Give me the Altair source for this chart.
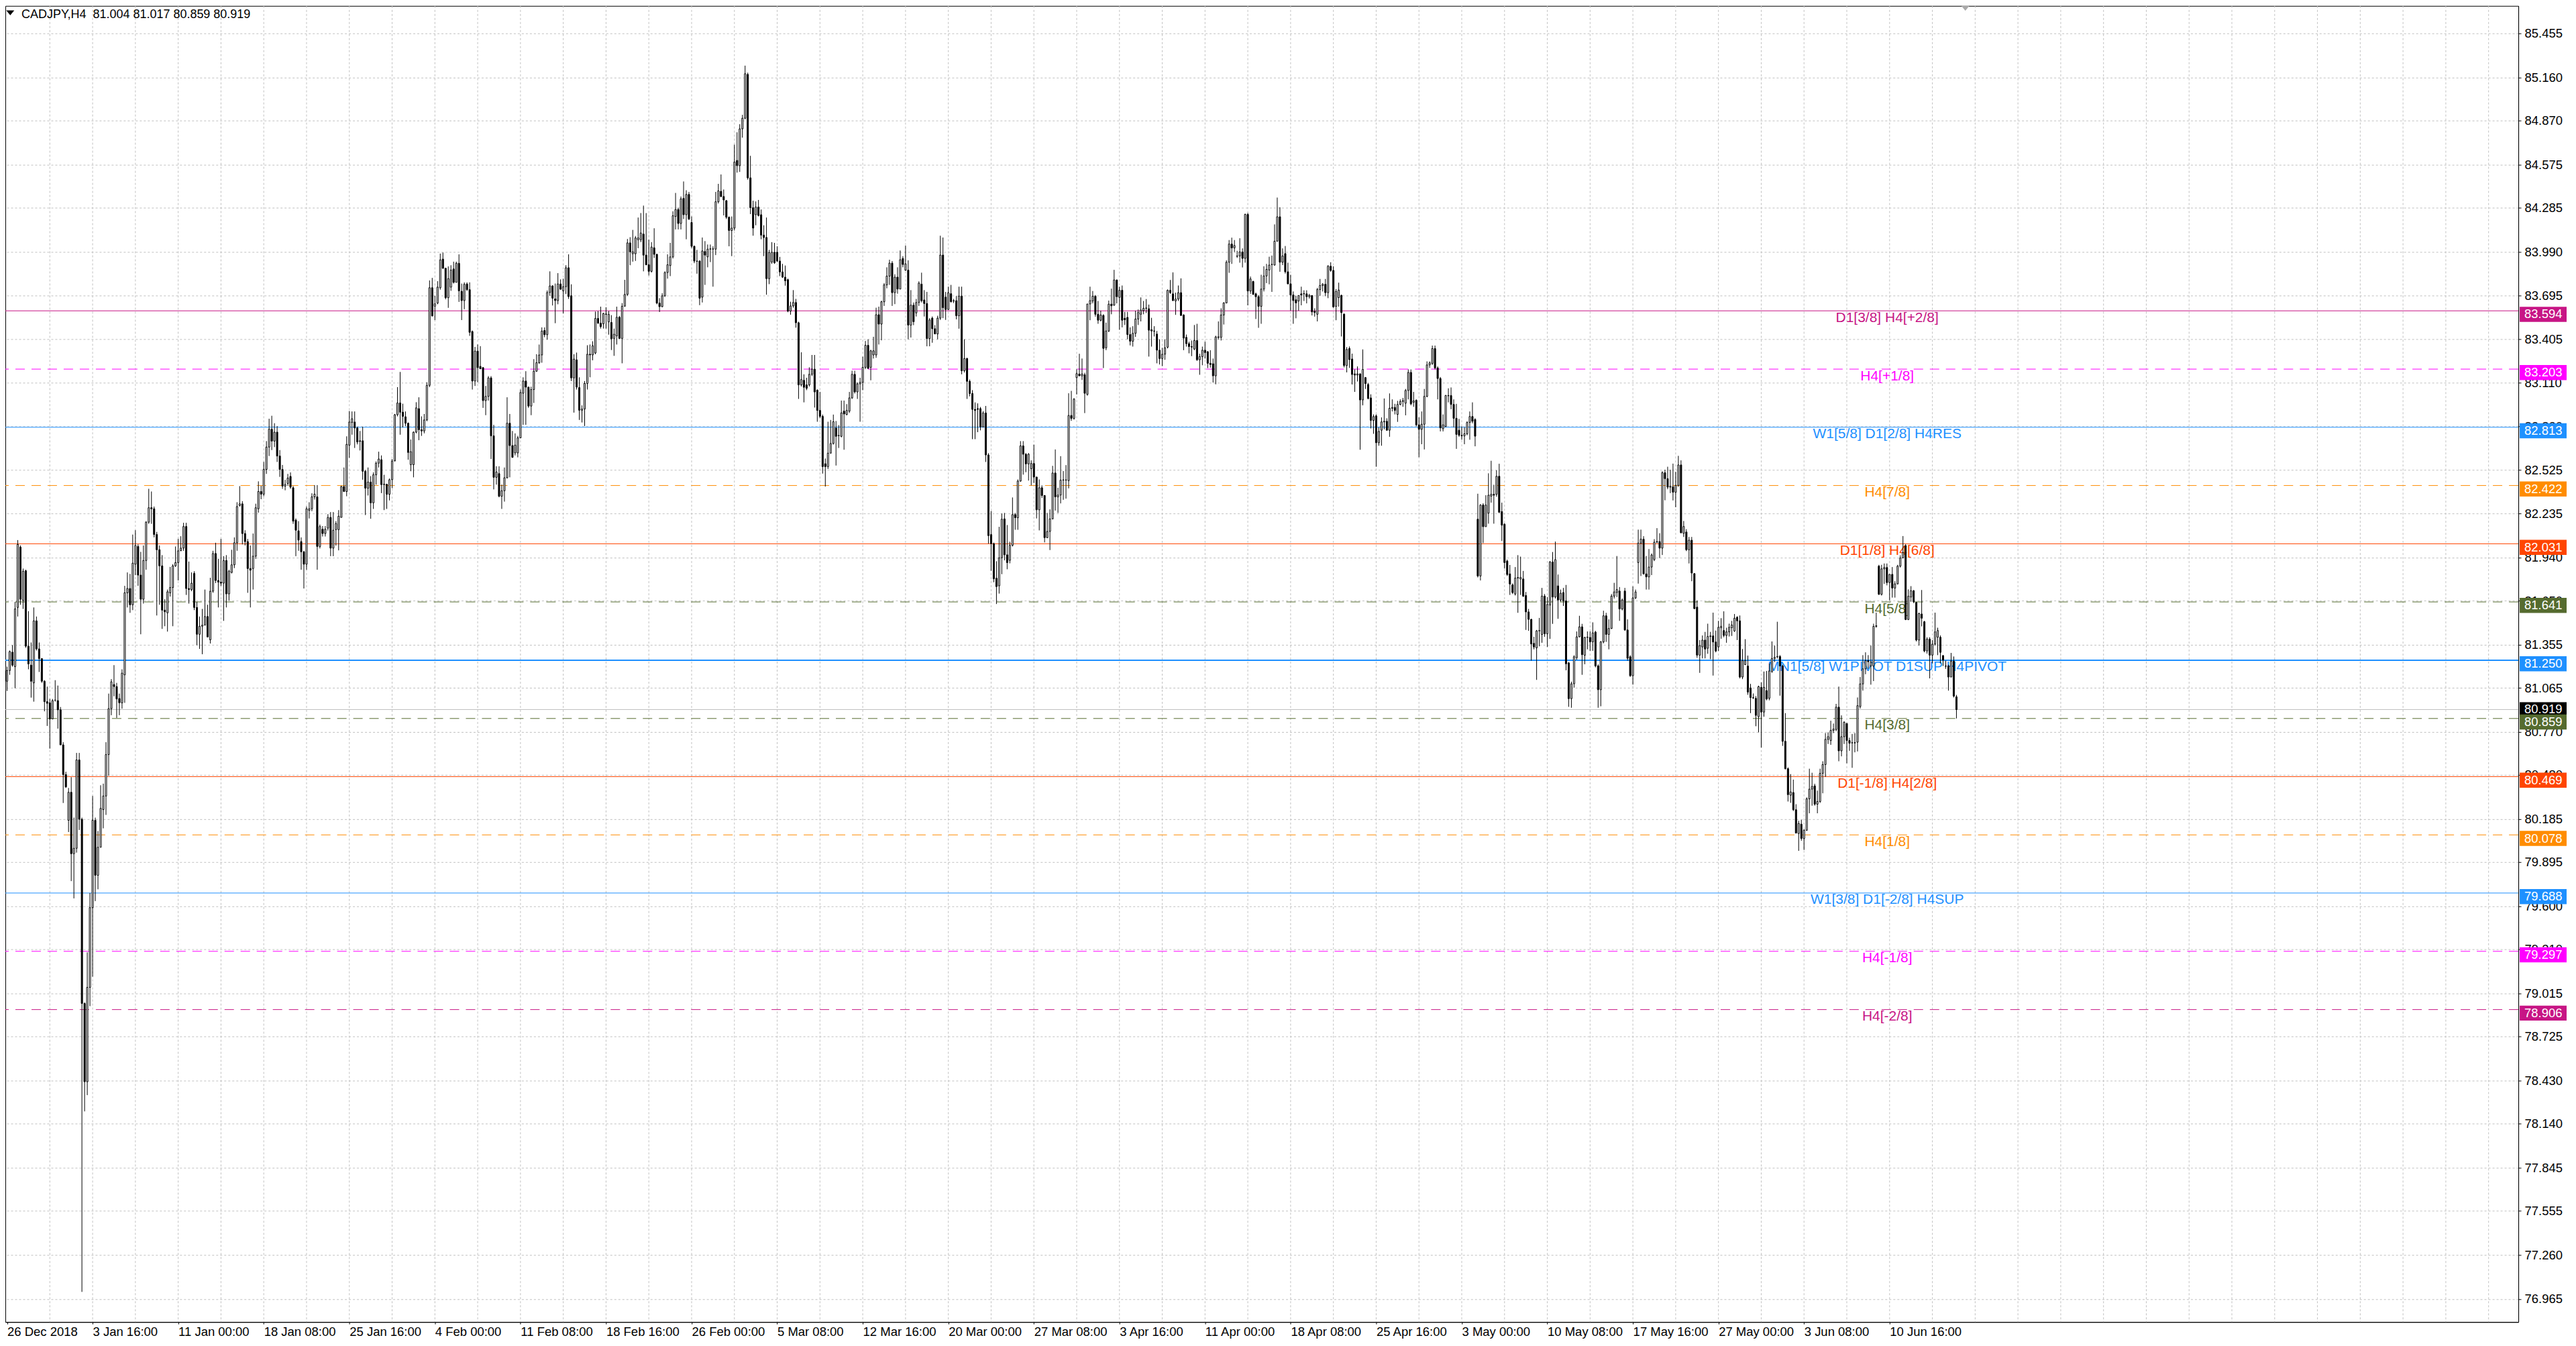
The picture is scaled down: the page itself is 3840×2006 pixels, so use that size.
import json

import altair as alt
import pandas as pd

# CADJPY H4 candles. bar 0 = first bar (26 Dec 2018).
# every tuple is (open, high, low, close)
bars_dec26_jan24 = [
    (81.109, 81.207, 81.044, 81.181), (81.181, 81.315, 81.152, 81.308), (81.304, 81.351, 81.207, 81.217), (81.207, 81.641, 81.062, 81.594),
    (81.604, 82.056, 81.543, 82.027), (82.009, 82.020, 81.622, 81.659), (81.651, 81.865, 81.594, 81.847), (81.850, 81.857, 81.333, 81.344),
    (81.344, 81.579, 81.189, 81.225), (81.217, 81.369, 80.999, 81.109), (81.098, 81.604, 80.972, 81.514), (81.514, 81.543, 81.315, 81.326),
    (81.326, 81.369, 81.171, 81.261), (81.261, 81.261, 81.098, 81.109), (81.109, 81.116, 80.907, 80.972), (80.972, 81.073, 80.809, 80.961),
    (80.964, 80.990, 80.657, 80.856), (80.856, 80.990, 80.856, 80.979), (80.982, 81.116, 80.972, 80.982), (80.979, 81.080, 80.791, 80.917),
    (80.917, 80.936, 80.682, 80.682), (80.682, 80.700, 80.292, 80.483), (80.483, 80.502, 80.393, 80.400), (80.176, 80.393, 80.097, 80.364),
    (80.364, 80.465, 79.768, 79.952), (79.952, 80.194, 79.652, 79.988), (79.988, 80.628, 79.959, 80.581), (80.581, 80.628, 80.111, 80.183),
    (80.183, 80.194, 77.012, 78.947), (78.947, 78.954, 78.223, 78.422), (78.422, 79.290, 78.332, 79.055), (79.055, 79.688, 78.929, 79.590),
    (79.590, 80.339, 79.127, 80.176), (80.176, 80.194, 79.634, 79.807), (79.807, 80.104, 79.713, 79.995), (79.995, 80.411, 79.995, 80.256),
    (80.248, 80.422, 80.122, 80.339), (80.339, 80.700, 80.212, 80.617), (80.617, 81.026, 80.476, 80.925), (80.925, 81.123, 80.881, 81.105),
    (81.087, 81.217, 81.008, 81.073), (81.073, 81.098, 80.863, 80.990), (80.993, 81.026, 80.881, 80.964), (80.964, 81.189, 80.925, 81.163),
    (81.152, 81.749, 80.964, 81.702), (81.702, 81.839, 81.604, 81.731), (81.731, 81.829, 81.568, 81.622), (81.622, 82.093, 81.586, 81.901),
    (81.894, 82.122, 81.821, 82.020), (82.013, 82.027, 81.749, 81.821), (81.821, 81.977, 81.424, 81.659), (81.659, 82.020, 81.630, 81.919),
    (81.919, 82.183, 81.857, 82.176), (82.176, 82.400, 82.165, 82.273), (82.273, 82.382, 82.165, 82.266), (82.266, 82.281, 82.074, 82.093),
    (82.093, 82.111, 81.550, 81.991), (81.991, 82.020, 81.622, 81.883), (81.883, 81.955, 81.460, 81.586), (81.586, 81.659, 81.478, 81.575),
    (81.568, 81.724, 81.442, 81.709), (81.702, 81.876, 81.677, 81.738), (81.738, 81.894, 81.478, 81.883), (81.883, 82.013, 81.876, 81.905),
    (81.905, 82.064, 81.785, 81.984), (81.984, 82.082, 81.984, 82.002), (82.002, 82.172, 81.984, 82.147), (82.147, 82.172, 81.688, 81.731),
    (81.731, 81.912, 81.630, 81.724), (81.724, 81.839, 81.713, 81.767), (81.832, 81.847, 81.586, 81.604), (81.604, 81.641, 81.351, 81.424),
    (81.424, 81.543, 81.326, 81.478), (81.478, 81.594, 81.290, 81.485), (81.485, 81.724, 81.485, 81.543), (81.543, 81.622, 81.406, 81.406),
    (81.387, 81.803, 81.362, 81.713), (81.713, 81.984, 81.702, 81.966), (81.966, 82.038, 81.767, 81.785), (81.785, 81.930, 81.604, 81.774),
    (81.774, 82.064, 81.749, 81.767), (81.767, 81.948, 81.514, 81.919), (81.919, 81.955, 81.604, 81.695), (81.695, 81.857, 81.651, 81.847),
    (81.839, 81.991, 81.832, 81.890), (81.890, 82.074, 81.868, 82.038), (82.038, 82.310, 81.984, 82.281), (82.288, 82.418, 82.281, 82.299),
    (82.299, 82.317, 82.027, 82.100), (82.100, 82.122, 82.020, 82.046), (82.046, 82.064, 81.702, 81.865), (81.865, 82.020, 81.604, 81.854),
    (81.865, 82.100, 81.724, 81.948), (81.948, 82.300, 81.930, 82.273), (82.266, 82.450, 82.240, 82.382), (82.382, 82.420, 82.330, 82.364),
    (82.364, 82.580, 82.350, 82.530), (82.530, 82.720, 82.500, 82.680), (82.680, 82.870, 82.620, 82.800), (82.800, 82.890, 82.660, 82.720),
    (82.720, 82.840, 82.680, 82.780), (82.780, 82.820, 82.580, 82.620), (82.620, 82.660, 82.480, 82.530), (82.530, 82.560, 82.400, 82.418),
    (82.418, 82.460, 82.390, 82.429), (82.436, 82.500, 82.420, 82.472), (82.483, 82.510, 82.400, 82.411), (82.407, 82.418, 82.165, 82.183),
    (82.190, 82.201, 81.948, 82.122), (82.118, 82.183, 81.984, 82.056), (82.046, 82.074, 81.857, 81.977), (81.977, 81.984, 81.731, 81.894),
    (81.894, 82.281, 81.857, 82.266), (82.255, 82.310, 82.201, 82.266), (82.266, 82.370, 82.250, 82.346), (82.346, 82.425, 82.328, 82.364),
    (82.346, 82.425, 81.857, 82.013), (82.013, 82.160, 82.000, 82.147), (82.129, 82.150, 82.080, 82.100), (82.100, 82.150, 82.080, 82.129),
    (82.136, 82.230, 82.120, 82.208), (82.208, 82.244, 81.948, 82.002), (82.002, 82.244, 81.948, 82.122), (82.126, 82.183, 82.019, 82.167),
]
bars_jan25_feb22 = [
    (82.126, 82.257, 81.987, 82.216), (82.208, 82.420, 82.208, 82.415), (82.415, 82.543, 82.379, 82.382), (82.382, 82.752, 82.350, 82.698),
    (82.693, 82.922, 82.608, 82.848), (82.845, 82.919, 82.763, 82.870), (82.848, 82.919, 82.674, 82.808), (82.808, 82.816, 82.698, 82.714),
    (82.722, 82.788, 82.657, 82.718), (82.722, 82.816, 82.461, 82.518), (82.518, 82.526, 82.224, 82.404), (82.404, 82.543, 82.355, 82.445),
    (82.445, 82.485, 82.199, 82.306), (82.306, 82.510, 82.265, 82.494), (82.494, 82.584, 82.428, 82.572), (82.572, 82.649, 82.543, 82.600),
    (82.595, 82.624, 82.371, 82.428), (82.428, 82.494, 82.257, 82.431), (82.431, 82.431, 82.265, 82.363), (82.363, 82.469, 82.322, 82.461),
    (82.461, 82.600, 82.404, 82.587), (82.587, 82.902, 82.584, 82.897), (82.897, 83.082, 82.886, 82.976), (82.976, 83.184, 82.763, 82.914),
    (82.914, 82.971, 82.812, 82.886), (82.883, 82.919, 82.821, 82.840), (82.840, 82.845, 82.595, 82.644), (82.562, 82.731, 82.518, 82.649),
    (82.562, 82.785, 82.477, 82.780), (82.780, 82.981, 82.772, 82.943), (82.938, 83.014, 82.726, 82.796), (82.796, 82.886, 82.755, 82.788),
    (82.788, 82.902, 82.772, 82.862), (82.862, 83.115, 82.853, 83.094), (83.094, 83.798, 83.082, 83.749), (83.749, 83.815, 83.556, 83.560),
    (83.625, 83.695, 83.532, 83.641), (83.646, 83.793, 83.638, 83.753), (83.749, 83.978, 83.736, 83.936), (83.941, 83.985, 83.875, 83.880),
    (83.880, 83.883, 83.671, 83.682), (83.682, 83.892, 83.614, 83.810), (83.753, 83.900, 83.728, 83.867), (83.875, 83.924, 83.777, 83.785),
    (83.785, 83.924, 83.785, 83.913), (83.913, 83.973, 83.654, 83.728), (83.725, 83.777, 83.532, 83.663), (83.663, 83.785, 83.605, 83.772),
    (83.774, 83.785, 83.728, 83.736), (83.736, 83.785, 83.426, 83.450), (83.455, 83.462, 83.066, 83.123), (83.123, 83.352, 83.090, 83.324),
    (83.324, 83.368, 83.115, 83.213), (83.221, 83.357, 83.205, 83.205), (83.213, 83.216, 82.943, 82.992), (82.992, 83.090, 82.894, 83.020),
    (83.020, 83.156, 82.992, 83.144), (83.144, 83.156, 82.600, 82.755), (82.755, 82.829, 82.396, 82.477), (82.477, 82.551, 82.428, 82.513),
    (82.502, 82.551, 82.343, 82.350), (82.350, 82.428, 82.265, 82.387), (82.387, 82.543, 82.314, 82.474), (82.474, 83.014, 82.469, 82.840),
    (82.840, 82.902, 82.477, 82.690), (82.690, 82.788, 82.608, 82.611), (82.641, 82.772, 82.624, 82.693), (82.641, 82.755, 82.611, 82.742),
    (82.742, 83.066, 82.739, 83.046), (83.041, 83.148, 82.829, 83.123), (83.123, 83.189, 82.829, 83.082), (83.082, 83.085, 82.943, 82.955),
    (82.955, 83.085, 82.894, 83.066), (83.066, 83.270, 82.976, 83.189), (83.189, 83.303, 83.184, 83.246), (83.246, 83.368, 83.238, 83.298),
    (83.298, 83.483, 83.246, 83.458), (83.462, 83.483, 83.417, 83.434), (83.434, 83.731, 83.401, 83.717), (83.717, 83.859, 83.695, 83.761),
    (83.761, 83.766, 83.630, 83.679), (83.674, 83.777, 83.511, 83.663), (83.663, 83.847, 83.638, 83.774), (83.774, 83.805, 83.736, 83.739),
    (83.728, 83.810, 83.576, 83.756), (83.756, 83.900, 83.707, 83.883), (83.883, 83.973, 83.674, 83.690), (83.695, 83.772, 83.123, 83.144),
    (83.144, 83.303, 82.911, 83.270), (83.265, 83.314, 83.066, 83.082), (83.079, 83.148, 82.862, 82.927), (82.927, 82.960, 82.845, 82.935),
    (82.935, 83.123, 82.821, 83.107), (83.107, 83.363, 83.066, 83.303), (83.303, 83.368, 83.148, 83.298), (83.298, 83.390, 83.262, 83.360),
    (83.311, 83.589, 83.303, 83.543), (83.543, 83.592, 83.507, 83.511), (83.511, 83.622, 83.475, 83.488), (83.507, 83.581, 83.475, 83.576),
    (83.573, 83.618, 83.475, 83.570), (83.520, 83.592, 83.434, 83.570), (83.516, 83.565, 83.331, 83.406), (83.409, 83.475, 83.292, 83.437),
    (83.426, 83.622, 83.368, 83.551), (83.551, 83.560, 83.406, 83.409), (83.409, 83.646, 83.242, 83.625), (83.625, 83.802, 83.622, 83.704),
    (83.704, 84.076, 83.695, 84.050), (84.050, 84.088, 83.900, 83.990), (83.977, 84.137, 83.924, 83.990), (83.977, 84.096, 83.929, 84.083),
    (84.071, 84.220, 84.014, 84.083), (84.071, 84.250, 84.055, 84.116), (84.109, 84.300, 83.859, 83.968), (83.968, 84.250, 83.900, 83.903),
    (83.903, 84.071, 83.831, 83.859), (83.859, 84.055, 83.851, 84.022), (84.017, 84.148, 83.949, 83.973), (83.973, 83.977, 83.638, 83.646),
    (83.646, 83.679, 83.586, 83.622), (83.622, 83.712, 83.618, 83.695), (83.695, 83.859, 83.687, 83.851), (83.851, 83.973, 83.810, 83.903),
]
bars_feb22_mar25 = [
    (83.898, 84.050, 83.827, 83.956), (83.956, 84.262, 83.945, 84.232), (84.227, 84.385, 84.140, 84.274), (84.274, 84.286, 84.140, 84.180),
    (84.180, 84.361, 84.140, 84.345), (84.349, 84.462, 84.210, 84.239), (84.239, 84.403, 84.074, 84.375), (84.375, 84.392, 84.203, 84.210),
    (84.187, 84.227, 84.015, 84.027), (84.027, 84.032, 83.914, 83.928), (83.928, 84.003, 83.843, 83.926), (83.928, 83.933, 83.632, 83.679),
    (83.686, 84.086, 83.650, 83.996), (83.992, 84.062, 83.768, 83.968), (83.956, 84.039, 83.886, 84.008), (84.008, 84.039, 83.921, 84.010),
    (84.008, 84.027, 83.756, 84.010), (84.008, 84.392, 83.968, 84.326), (84.326, 84.446, 84.314, 84.399), (84.396, 84.509, 84.356, 84.361),
    (84.361, 84.408, 84.234, 84.338), (84.333, 84.338, 84.210, 84.222), (84.222, 84.227, 84.027, 84.133), (84.133, 84.227, 83.961, 84.149),
    (84.149, 84.709, 84.133, 84.592), (84.603, 84.792, 84.521, 84.568), (84.568, 84.846, 84.526, 84.815), (84.815, 84.909, 84.756, 84.886),
    (84.886, 85.239, 84.879, 85.185), (85.180, 85.192, 84.474, 84.486), (84.486, 84.634, 84.243, 84.286), (84.286, 84.333, 84.098, 84.149),
    (84.239, 84.328, 84.168, 84.290), (84.290, 84.338, 84.227, 84.234), (84.239, 84.274, 84.074, 84.102), (84.102, 84.168, 83.961, 84.086),
    (84.086, 84.220, 83.702, 83.810), (83.810, 84.003, 83.773, 83.985), (83.921, 84.055, 83.909, 83.987), (83.987, 84.050, 83.909, 83.916),
    (83.987, 84.027, 83.921, 83.928), (83.928, 83.956, 83.827, 83.855), (83.855, 83.909, 83.815, 83.820), (83.820, 83.898, 83.763, 83.796),
    (83.803, 83.810, 83.585, 83.592), (83.592, 83.655, 83.568, 83.627), (83.627, 83.733, 83.615, 83.650), (83.650, 83.674, 83.481, 83.514),
    (83.514, 83.521, 83.003, 83.097), (83.097, 83.316, 83.086, 83.133), (83.128, 83.168, 82.980, 83.081), (83.097, 83.145, 83.062, 83.074),
    (83.097, 83.215, 83.086, 83.168), (83.168, 83.298, 83.156, 83.203), (83.203, 83.298, 82.945, 83.050), (83.062, 83.067, 82.850, 82.926),
    (82.926, 83.050, 82.874, 82.886), (82.886, 82.898, 82.502, 82.549), (82.568, 82.603, 82.415, 82.549), (82.549, 82.850, 82.533, 82.639),
    (82.639, 82.862, 82.639, 82.704), (82.704, 82.898, 82.697, 82.850), (82.808, 82.855, 82.556, 82.752), (82.756, 82.827, 82.674, 82.758),
    (82.752, 82.992, 82.745, 82.909), (82.921, 82.992, 82.662, 82.902), (82.898, 82.968, 82.893, 82.926), (82.921, 83.050, 82.909, 83.010),
    (83.010, 83.192, 83.003, 83.168), (83.168, 83.192, 83.039, 83.050), (83.050, 83.114, 83.003, 83.104), (83.104, 83.145, 82.850, 83.114),
    (83.114, 83.286, 83.062, 83.215), (83.215, 83.392, 83.203, 83.363), (83.363, 83.403, 83.203, 83.208), (83.215, 83.333, 83.128, 83.326),
    (83.298, 83.420, 83.274, 83.326), (83.298, 83.615, 83.279, 83.568), (83.568, 83.622, 83.368, 83.505), (83.505, 83.662, 83.396, 83.655),
    (83.655, 83.780, 83.627, 83.768), (83.768, 83.886, 83.745, 83.827), (83.827, 83.937, 83.768, 83.914), (83.914, 83.928, 83.627, 83.716),
    (83.716, 83.839, 83.639, 83.820), (83.820, 83.886, 83.709, 83.740), (83.740, 83.999, 83.740, 83.937), (83.945, 83.961, 83.886, 83.905),
    (83.867, 84.032, 83.862, 83.909), (83.867, 83.933, 83.403, 83.498), (83.498, 83.733, 83.415, 83.632), (83.632, 83.650, 83.498, 83.521),
    (83.580, 83.674, 83.556, 83.650), (83.650, 83.792, 83.627, 83.780), (83.773, 83.850, 83.650, 83.662), (83.667, 83.733, 83.556, 83.643),
    (83.643, 83.721, 83.356, 83.408), (83.408, 83.545, 83.356, 83.533), (83.545, 83.556, 83.380, 83.474), (83.474, 83.498, 83.439, 83.439),
    (83.439, 83.561, 83.403, 83.545), (83.545, 84.098, 83.533, 83.968), (83.968, 84.086, 83.545, 83.615), (83.686, 83.721, 83.533, 83.603),
    (83.603, 83.756, 83.599, 83.716), (83.709, 83.768, 83.650, 83.655), (83.662, 83.674, 83.646, 83.660), (83.662, 83.693, 83.537, 83.561),
    (83.561, 83.756, 83.474, 83.693), (83.693, 83.756, 83.168, 83.192), (83.192, 83.403, 83.180, 83.274), (83.274, 83.279, 83.003, 83.121),
    (83.121, 83.133, 83.020, 83.039), (83.039, 83.062, 82.733, 82.933), (82.933, 82.980, 82.733, 82.926), (82.938, 82.973, 82.780, 82.933),
    (82.938, 82.949, 82.792, 82.815), (82.815, 82.921, 82.815, 82.909), (82.909, 82.956, 82.580, 82.627), (82.627, 82.639, 82.032, 82.086),
    (82.093, 82.251, 81.850, 82.032), (82.032, 82.039, 81.773, 81.796), (81.800, 81.914, 81.627, 81.744), (81.749, 82.145, 81.697, 81.937),
    (81.937, 82.234, 81.827, 82.196),
]
bars_mar25_apr23 = [
    (82.198, 82.238, 81.920, 81.957), (81.957, 82.157, 81.860, 81.905), (81.920, 82.045, 81.900, 82.021), (82.021, 82.342, 82.013, 82.227),
    (82.227, 82.238, 82.125, 82.206), (82.206, 82.463, 82.125, 82.452), (82.452, 82.720, 82.447, 82.688), (82.688, 82.720, 82.495, 82.632),
    (82.632, 82.640, 82.511, 82.567), (82.567, 82.640, 82.455, 82.632), (82.535, 82.591, 82.423, 82.570), (82.570, 82.696, 82.439, 82.479),
    (82.479, 82.479, 82.201, 82.259), (82.259, 82.463, 82.121, 82.407), (82.407, 82.423, 82.339, 82.355), (82.355, 82.358, 82.040, 82.072),
    (82.072, 82.238, 82.069, 82.114), (82.114, 82.262, 81.989, 82.198), (82.198, 82.554, 82.195, 82.506), (82.506, 82.664, 82.254, 82.346),
    (82.346, 82.407, 82.238, 82.358), (82.358, 82.619, 82.302, 82.458), (82.458, 82.519, 82.326, 82.460), (82.460, 82.559, 82.334, 82.458),
    (82.455, 83.041, 82.403, 82.892), (82.892, 83.057, 82.856, 82.872), (82.872, 83.009, 82.864, 83.001), (83.146, 83.202, 83.033, 83.173),
    (83.170, 83.306, 83.158, 83.158), (83.158, 83.274, 83.130, 83.170), (83.165, 83.178, 82.908, 83.041), (83.033, 83.640, 83.025, 83.640),
    (83.640, 83.756, 83.531, 83.663), (83.660, 83.727, 83.644, 83.692), (83.692, 83.700, 83.555, 83.571), (83.571, 83.660, 83.507, 83.531),
    (83.531, 83.595, 83.523, 83.566), (83.563, 83.571, 83.210, 83.342), (83.346, 83.515, 83.330, 83.459), (83.459, 83.663, 83.451, 83.639),
    (83.639, 83.743, 83.571, 83.628), (83.632, 83.869, 83.628, 83.801), (83.801, 83.804, 83.644, 83.689), (83.684, 83.756, 83.467, 83.732),
    (83.732, 83.764, 83.483, 83.531), (83.544, 83.587, 83.499, 83.534), (83.550, 83.587, 83.403, 83.435), (83.435, 83.483, 83.362, 83.390),
    (83.390, 83.491, 83.354, 83.443), (83.443, 83.595, 83.419, 83.539), (83.539, 83.603, 83.499, 83.583), (83.571, 83.684, 83.523, 83.599),
    (83.595, 83.660, 83.571, 83.611), (83.611, 83.673, 83.579, 83.613), (83.608, 83.636, 83.287, 83.464), (83.467, 83.547, 83.354, 83.459),
    (83.459, 83.491, 83.422, 83.457), (83.438, 83.459, 83.242, 83.330), (83.330, 83.403, 83.234, 83.274), (83.274, 83.346, 83.223, 83.303),
    (83.303, 83.403, 83.266, 83.346), (83.350, 83.737, 83.342, 83.732), (83.732, 83.801, 83.708, 83.716), (83.708, 83.852, 83.660, 83.663),
    (83.660, 83.716, 83.567, 83.673), (83.673, 83.764, 83.660, 83.716), (83.716, 83.812, 83.560, 83.563), (83.566, 83.571, 83.330, 83.411),
    (83.416, 83.435, 83.354, 83.374), (83.374, 83.387, 83.309, 83.354), (83.354, 83.395, 83.290, 83.351), (83.338, 83.499, 83.330, 83.395),
    (83.395, 83.507, 83.258, 83.266), (83.266, 83.306, 83.165, 83.287), (83.287, 83.354, 83.229, 83.330), (83.330, 83.387, 83.274, 83.314),
    (83.319, 83.325, 83.210, 83.242), (83.242, 83.330, 83.213, 83.234), (83.239, 83.274, 83.113, 83.158), (83.158, 83.427, 83.101, 83.419),
    (83.419, 83.523, 83.403, 83.416), (83.416, 83.611, 83.395, 83.566), (83.566, 83.652, 83.502, 83.647), (83.647, 83.933, 83.644, 83.920),
    (83.920, 84.069, 83.849, 84.042), (84.042, 84.085, 83.909, 84.016), (84.016, 84.069, 83.989, 84.032), (83.962, 83.997, 83.949, 83.960),
    (83.962, 84.081, 83.917, 83.989), (83.989, 84.013, 83.885, 83.946), (83.946, 84.246, 83.917, 84.241), (84.241, 84.251, 83.631, 83.727),
    (83.727, 83.824, 83.708, 83.808), (83.791, 83.796, 83.700, 83.705), (83.708, 83.716, 83.539, 83.689), (83.689, 83.700, 83.480, 83.624),
    (83.624, 83.836, 83.507, 83.740), (83.740, 83.893, 83.724, 83.828), (83.828, 83.909, 83.780, 83.872), (83.868, 83.957, 83.772, 83.901),
    (83.904, 83.965, 83.721, 83.906), (83.901, 84.174, 83.898, 84.061), (84.061, 84.354, 84.061, 84.225), (84.225, 84.289, 83.856, 83.920),
    (83.920, 84.013, 83.901, 83.962), (83.978, 84.029, 83.844, 83.856), (83.856, 83.917, 83.772, 83.775), (83.775, 83.836, 83.595, 83.700),
    (83.700, 83.724, 83.507, 83.663), (83.668, 83.695, 83.544, 83.647), (83.660, 83.697, 83.595, 83.697), (83.708, 83.756, 83.631, 83.700),
    (83.708, 83.732, 83.660, 83.710), (83.708, 83.732, 83.644, 83.689), (83.689, 83.708, 83.676, 83.697), (83.697, 83.697, 83.563, 83.587),
    (83.591, 83.611, 83.555, 83.583), (83.571, 83.748, 83.523, 83.737), (83.737, 83.808, 83.695, 83.764), (83.764, 83.780, 83.724, 83.772),
    (83.772, 83.808, 83.692, 83.716), (83.716, 83.901, 83.679, 83.893), (83.893, 83.920, 83.856, 83.865), (83.865, 83.893, 83.615, 83.620),
    (83.624, 83.740, 83.531, 83.724),
]
bars_apr23_may22 = [
    (83.683, 83.783, 83.622, 83.733), (83.697, 83.703, 83.422, 83.582), (83.572, 83.576, 83.215, 83.227), (83.227, 83.351, 83.181, 83.335),
    (83.341, 83.355, 83.211, 83.267), (83.271, 83.307, 83.100, 83.167), (83.171, 83.201, 83.050, 83.163), (83.163, 83.221, 83.120, 83.171),
    (83.171, 83.175, 82.662, 82.996), (82.996, 83.335, 82.960, 83.201), (83.146, 83.150, 83.070, 83.106), (83.100, 83.110, 83.000, 83.006),
    (83.010, 83.034, 82.805, 82.859), (82.859, 82.899, 82.769, 82.885), (82.889, 82.899, 82.548, 82.709), (82.709, 82.813, 82.689, 82.785),
    (82.793, 82.879, 82.689, 82.849), (82.849, 83.006, 82.799, 82.853), (82.853, 82.873, 82.789, 82.793), (82.793, 83.040, 82.749, 82.940),
    (82.940, 83.000, 82.919, 82.946), (82.946, 82.970, 82.899, 82.926), (82.899, 82.990, 82.849, 82.966), (82.966, 83.000, 82.960, 82.986),
    (82.986, 83.010, 82.950, 82.992), (82.974, 83.070, 82.893, 83.060), (83.060, 83.201, 83.000, 83.181), (83.181, 83.201, 82.960, 82.970),
    (82.980, 83.050, 82.950, 82.990), (82.994, 83.000, 82.819, 82.829), (82.829, 82.879, 82.612, 82.799), (82.799, 82.919, 82.699, 82.833),
    (82.833, 83.070, 82.664, 83.020), (83.020, 83.255, 83.014, 83.231), (83.231, 83.255, 83.211, 83.245), (83.241, 83.361, 83.231, 83.341),
    (83.341, 83.361, 83.201, 83.211), (83.211, 83.221, 83.000, 83.140), (83.140, 83.150, 82.785, 82.809), (82.803, 82.899, 82.785, 82.829),
    (82.819, 83.030, 82.813, 83.026), (83.026, 83.074, 82.980, 83.024), (83.026, 83.080, 82.934, 82.966), (82.966, 83.000, 82.813, 82.873),
    (82.873, 82.970, 82.668, 82.765), (82.793, 82.869, 82.749, 82.759), (82.759, 82.819, 82.729, 82.755), (82.755, 82.813, 82.699, 82.769),
    (82.769, 82.853, 82.759, 82.845), (82.845, 82.919, 82.729, 82.885), (82.885, 82.980, 82.839, 82.853), (82.865, 82.873, 82.685, 82.753),
    (82.196, 82.367, 81.805, 81.815), (81.815, 82.297, 81.785, 82.291), (82.291, 82.303, 82.036, 82.146), (82.146, 82.357, 82.146, 82.291),
    (82.237, 82.504, 82.166, 82.357), (82.351, 82.588, 82.307, 82.363), (82.363, 82.427, 82.166, 82.357), (82.363, 82.524, 82.347, 82.484),
    (82.484, 82.568, 82.237, 82.243), (82.247, 82.307, 82.050, 82.156), (82.162, 82.170, 81.865, 81.905), (81.915, 81.925, 81.815, 81.825),
    (81.829, 81.889, 81.688, 81.761), (81.755, 81.765, 81.694, 81.704), (81.694, 81.875, 81.684, 81.801), (81.801, 81.955, 81.568, 81.805),
    (81.795, 81.945, 81.688, 81.805), (81.795, 81.849, 81.674, 81.680), (81.684, 81.708, 81.453, 81.574), (81.574, 81.594, 81.447, 81.524),
    (81.524, 81.528, 81.247, 81.359), (81.363, 81.407, 81.323, 81.339), (81.333, 81.453, 81.118, 81.447), (81.447, 81.534, 81.343, 81.449),
    (81.423, 81.735, 81.367, 81.680), (81.680, 81.694, 81.407, 81.427), (81.427, 81.674, 81.339, 81.624), (81.620, 81.915, 81.393, 81.909),
    (81.909, 81.976, 81.494, 81.674), (81.674, 82.046, 81.664, 81.925), (81.749, 81.825, 81.528, 81.654), (81.654, 81.724, 81.644, 81.700),
    (81.704, 81.735, 81.614, 81.648), (81.648, 81.755, 81.182, 81.226), (81.232, 81.238, 80.937, 80.992), (80.992, 81.106, 80.931, 81.092),
    (81.092, 81.283, 81.066, 81.273), (81.267, 81.443, 81.253, 81.407), (81.407, 81.548, 81.403, 81.474), (81.474, 81.494, 81.152, 81.287),
    (81.283, 81.407, 81.223, 81.403), (81.403, 81.443, 81.323, 81.405), (81.403, 81.443, 81.313, 81.373), (81.373, 81.504, 81.313, 81.433),
    (81.439, 81.447, 81.202, 81.212), (81.212, 81.222, 80.931, 81.052), (81.052, 81.379, 80.941, 81.373), (81.373, 81.582, 81.363, 81.548),
    (81.548, 81.568, 81.373, 81.423), (81.423, 81.524, 81.323, 81.463), (81.463, 81.694, 81.459, 81.680), (81.680, 81.769, 81.664, 81.708),
    (81.704, 81.949, 81.674, 81.724), (81.714, 81.741, 81.514, 81.594), (81.594, 81.664, 81.584, 81.654), (81.714, 81.735, 81.447, 81.453),
    (81.453, 81.524, 81.247, 81.263), (81.273, 81.283, 81.138, 81.146), (81.146, 81.745, 81.086, 81.668), (81.668, 81.724, 81.660, 81.708),
    (81.905, 82.126, 81.764, 82.036), (82.036, 82.126, 81.815, 82.062), (82.062, 82.082, 81.825, 81.829), (81.829, 81.949, 81.724, 81.809),
    (81.809, 81.996, 81.724, 81.875), (81.875, 81.966, 81.821, 81.956), (81.925, 82.062, 81.915, 82.042), (82.042, 82.136, 82.036, 82.046),
    (82.046, 82.102, 81.935, 82.002), (82.002, 82.518, 81.956, 82.508), (82.508, 82.528, 82.323, 82.468), (82.468, 82.548, 82.397, 82.411),
    (82.411, 82.528, 82.371, 82.417),
]
bars_may22_jun14 = [
    (82.413, 82.569, 82.322, 82.377), (82.377, 82.514, 82.276, 82.423), (82.423, 82.621, 82.413, 82.560), (82.560, 82.591, 82.101, 82.105),
    (82.101, 82.184, 82.077, 82.147), (82.110, 82.129, 81.982, 81.991), (81.991, 82.077, 81.899, 82.055), (82.055, 82.077, 81.780, 81.835),
    (81.831, 81.835, 81.593, 81.596), (81.606, 81.651, 81.266, 81.284), (81.284, 81.385, 81.165, 81.348), (81.339, 81.416, 81.262, 81.385),
    (81.385, 81.440, 81.262, 81.325), (81.330, 81.495, 81.293, 81.409), (81.409, 81.440, 81.257, 81.413), (81.413, 81.569, 81.147, 81.372),
    (81.372, 81.449, 81.303, 81.312), (81.339, 81.514, 81.312, 81.471), (81.468, 81.532, 81.394, 81.477), (81.449, 81.578, 81.404, 81.416),
    (81.416, 81.468, 81.367, 81.440), (81.440, 81.495, 81.409, 81.471), (81.468, 81.514, 81.413, 81.486), (81.446, 81.560, 81.440, 81.532),
    (81.538, 81.545, 81.385, 81.514), (81.514, 81.550, 81.128, 81.137), (81.137, 81.325, 81.123, 81.247), (81.220, 81.391, 81.220, 81.247),
    (81.211, 81.281, 81.018, 81.036), (81.064, 81.091, 80.895, 80.999), (80.999, 81.027, 80.990, 80.997), (80.994, 81.009, 80.807, 80.880),
    (80.871, 81.079, 80.766, 81.073), (81.068, 81.101, 80.664, 80.902), (80.902, 81.174, 80.871, 81.068), (81.046, 81.178, 80.981, 80.990),
    (80.994, 81.229, 80.981, 81.178), (81.174, 81.376, 81.165, 81.262), (81.262, 81.348, 81.238, 81.269), (81.273, 81.508, 81.262, 81.275),
    (81.275, 81.284, 81.012, 81.211), (81.211, 81.220, 80.675, 80.706), (80.706, 80.895, 80.517, 80.522), (80.522, 80.531, 80.302, 80.348),
    (80.344, 80.486, 80.293, 80.366), (80.362, 80.449, 80.238, 80.247), (80.247, 80.284, 80.087, 80.091), (80.087, 80.173, 79.971, 80.155),
    (80.150, 80.179, 80.039, 80.054), (80.054, 80.118, 79.977, 80.109), (80.109, 80.330, 80.105, 80.320), (80.320, 80.522, 80.223, 80.385),
    (80.385, 80.495, 80.274, 80.403), (80.407, 80.421, 80.274, 80.284), (80.284, 80.375, 80.223, 80.302), (80.302, 80.522, 80.293, 80.491),
    (80.491, 80.572, 80.357, 80.550), (80.550, 80.761, 80.467, 80.719), (80.719, 80.766, 80.688, 80.737), (80.711, 80.844, 80.682, 80.779),
    (80.779, 80.825, 80.761, 80.788), (80.785, 80.957, 80.774, 80.935), (80.935, 81.073, 80.572, 80.642), (80.642, 80.880, 80.605, 80.737),
    (80.737, 80.840, 80.688, 80.834), (80.825, 80.829, 80.559, 80.711), (80.711, 80.730, 80.642, 80.693), (80.695, 80.755, 80.528, 80.697),
    (80.697, 80.761, 80.632, 80.695), (80.700, 81.000, 80.638, 80.945), (80.939, 81.137, 80.926, 81.091), (81.091, 81.284, 81.046, 81.192),
    (81.192, 81.303, 81.156, 81.247), (81.247, 81.284, 81.192, 81.240), (81.211, 81.348, 81.086, 81.238), (81.211, 81.495, 81.110, 81.477),
    (81.477, 81.569, 81.468, 81.481), (81.881, 81.890, 81.688, 81.692), (81.692, 81.890, 81.684, 81.863), (81.863, 81.899, 81.762, 81.872),
    (81.872, 81.899, 81.752, 81.771), (81.771, 81.826, 81.651, 81.826), (81.826, 81.875, 81.670, 81.734), (81.734, 81.780, 81.670, 81.762),
    (81.762, 81.890, 81.758, 81.881), (81.881, 81.954, 81.872, 81.936), (81.936, 82.083, 81.936, 81.973), (82.019, 82.028, 81.519, 81.523),
    (81.523, 81.725, 81.519, 81.679), (81.674, 81.747, 81.642, 81.716), (81.716, 81.721, 81.633, 81.642), (81.637, 81.642, 81.376, 81.385),
    (81.385, 81.569, 81.348, 81.563), (81.560, 81.721, 81.477, 81.532), (81.508, 81.514, 81.303, 81.312), (81.312, 81.404, 81.294, 81.391),
    (81.391, 81.404, 81.128, 81.284), (81.284, 81.385, 81.229, 81.358), (81.358, 81.569, 81.348, 81.440), (81.404, 81.468, 81.284, 81.449),
    (81.404, 81.416, 81.229, 81.303), (81.281, 81.284, 81.211, 81.251), (81.211, 81.247, 81.192, 81.209), (81.211, 81.220, 81.046, 81.137),
    (81.137, 81.299, 81.137, 81.244), (81.244, 81.275, 81.000, 81.009), (81.004, 81.017, 80.859, 80.919),
]

symbol = "CADJPY,H4"
bid = 80.919

# time axis: one label every 32 bars, grid every 16 bars
date_labels = [
    "26 Dec 2018", "3 Jan 16:00", "11 Jan 00:00", "18 Jan 08:00", "25 Jan 16:00", "4 Feb 00:00",
    "11 Feb 08:00", "18 Feb 16:00", "26 Feb 00:00", "5 Mar 08:00", "12 Mar 16:00", "20 Mar 00:00",
    "27 Mar 08:00", "3 Apr 16:00", "11 Apr 00:00", "18 Apr 08:00", "25 Apr 16:00", "3 May 00:00",
    "10 May 08:00", "17 May 16:00", "27 May 00:00", "3 Jun 08:00", "10 Jun 16:00",
]
label_step = 32
grid_step = 16
grid_last = 928

price_ticks = [
    85.455, 85.160, 84.870, 84.575, 84.285, 83.990, 83.695, 83.405, 83.110, 82.820,
    82.525, 82.235, 81.940, 81.650, 81.355, 81.065, 80.770, 80.480, 80.185, 79.895,
    79.600, 79.310, 79.015, 78.725, 78.430, 78.140, 77.845, 77.555, 77.260, 76.965,
]

# murrey-math style levels: price, colour, dashed, line width, caption
levels = [
    (83.594, "#C71585", False, 1, "D1[3/8] H4[+2/8]"),
    (83.203, "#FF00FF", True, 1, "H4[+1/8]"),
    (82.813, "#1E90FF", False, 1, "W1[5/8] D1[2/8] H4RES"),
    (82.422, "#FF8C00", True, 1, "H4[7/8]"),
    (82.031, "#FF4500", False, 1, "D1[1/8] H4[6/8]"),
    (81.641, "#556B2F", True, 1, "H4[5/8]"),
    (81.250, "#1E90FF", False, 2, "MN1[5/8] W1PIVOT D1SUP H4PIVOT"),
    (80.859, "#556B2F", True, 1, "H4[3/8]"),
    (80.469, "#FF4500", False, 1, "D1[-1/8] H4[2/8]"),
    (80.078, "#FF8C00", True, 1, "H4[1/8]"),
    (79.688, "#1E90FF", False, 1, "W1[3/8] D1[-2/8] H4SUP"),
    (79.297, "#FF00FF", True, 1, "H4[-1/8]"),
    (78.906, "#C71585", True, 1, "H4[-2/8]"),
]
caption_bar = 703.1

W, H = 3749, 1963
FONT = "Liberation Sans"

ohlc = (bars_dec26_jan24 + bars_jan25_feb22 + bars_feb22_mar25
        + bars_mar25_apr23 + bars_apr23_may22 + bars_may22_jun14)
candles = pd.DataFrame(ohlc, columns=["open", "high", "low", "close"])
candles["bar"] = range(len(candles))
candles["high"] = candles[["open", "high", "close"]].max(axis=1)
candles["low"] = candles[["open", "low", "close"]].min(axis=1)
candles["body"] = ["white" if c >= o else "black" for o, c in zip(candles["open"], candles["close"])]

lv = pd.DataFrame(levels, columns=["price", "color", "dashed", "width", "caption"])
lv["bar"] = caption_bar
lv["label"] = [f"{p:.3f}" for p in lv["price"]]
bid_df = pd.DataFrame({"price": [bid], "label": [f"{bid:.3f}"]})
grid_df = pd.DataFrame({"bar": list(range(grid_step, grid_last + 1, grid_step))})
one = pd.DataFrame({"k": [0]})

x_scale = alt.Scale(domain=[0.625, 0.625 + W / 4], nice=False, zero=False)
y_scale = alt.Scale(domain=[76.8099, 85.6399], nice=False, zero=False)

label_bars = [i * label_step for i in range(len(date_labels))]
# the same axis objects go on every layer so that the layered axes merge cleanly
x_axis = alt.Axis(
    values=label_bars, labelExpr=f"{json.dumps(date_labels)}[round(datum.value / {label_step})]",
    grid=False, tickSize=3, labelAlign="left", labelBaseline="top", labelPadding=2.5, title="",
)
y_axis = alt.Axis(
    orient="right", values=price_ticks, format=".3f", grid=True, gridDash=[3, 3],
    gridColor="#c0c0c0", tickSize=4, labelPadding=5, title="",
)


def xq(field):
    return alt.X(field, scale=x_scale, axis=x_axis)


def yq(field):
    return alt.Y(field, scale=y_scale, axis=y_axis)


vgrid = alt.Chart(grid_df).mark_rule(color="#c0c0c0", strokeDash=[3, 3], strokeWidth=1).encode(
    x=xq("bar:Q")
)

solid = alt.Chart(lv[~lv["dashed"]]).mark_rule().encode(
    y=yq("price:Q"),
    color=alt.Color("color:N", scale=None),
    strokeWidth=alt.StrokeWidth("width:Q", scale=None),
)
dashed = alt.Chart(lv[lv["dashed"]]).mark_rule(strokeDash=[14, 10], strokeWidth=1).encode(
    y=yq("price:Q"),
    color=alt.Color("color:N", scale=None),
)
bid_line = alt.Chart(bid_df).mark_rule(color="#c0c0c0", strokeWidth=1).encode(
    y=yq("price:Q")
)

captions = alt.Chart(lv).mark_text(font=FONT, fontSize=21, align="center", baseline="middle", dy=10.5).encode(
    x=xq("bar:Q"),
    y=yq("price:Q"),
    color=alt.Color("color:N", scale=None),
    text="caption:N",
)

wicks = alt.Chart(candles).mark_rule(color="black", strokeWidth=1).encode(
    x=xq("bar:Q"),
    y=yq("low:Q"),
    y2="high:Q",
)
bodies = alt.Chart(candles).mark_bar(size=2, stroke="black", strokeWidth=1, orient="vertical").encode(
    x=xq("bar:Q"),
    y=yq("open:Q"),
    y2="close:Q",
    fill=alt.Fill("body:N", scale=None),
)

# price tags right of the axis
bid_box = alt.Chart(bid_df).mark_rect(color="black", yOffset=-11, y2Offset=11).encode(
    x=alt.value(W + 2), x2=alt.value(W + 72),
    y=yq("price:Q"), y2="price:Q",
)
bid_text = alt.Chart(bid_df).mark_text(font=FONT, fontSize=18.5, align="left", baseline="middle", color="white").encode(
    x=alt.value(W + 9), y=yq("price:Q"), text="label:N"
)
lv_box = alt.Chart(lv).mark_rect(yOffset=-6, y2Offset=16.5).encode(
    x=alt.value(W + 2), x2=alt.value(W + 72),
    y=yq("price:Q"), y2="price:Q",
    color=alt.Color("color:N", scale=None),
)
lv_text = alt.Chart(lv).mark_text(font=FONT, fontSize=18.5, align="left", baseline="middle", color="white", dy=5.25).encode(
    x=alt.value(W + 9), y=yq("price:Q"), text="label:N"
)

last = ohlc[-1]
header_str = f"{symbol}\u00a0 {last[0]:.3f} {last[1]:.3f} {last[2]:.3f} {last[3]:.3f}"
header = alt.Chart(pd.DataFrame({"t": [header_str]})).mark_text(
    font=FONT, fontSize=18, align="left", baseline="alphabetic", color="black"
).encode(x=alt.value(24), y=alt.value(18), text="t:N")

tri = "M-1,-0.6L1,-0.6L0,0.6Z"
header_arrow = alt.Chart(one).mark_point(shape=tri, filled=True, size=144, color="black", opacity=1).encode(
    x=alt.value(7.3), y=alt.value(10.3)
)
shift_mark = alt.Chart(one).mark_point(shape=tri, filled=True, size=144, color="#a9a9a9", opacity=1).encode(
    x=alt.value(2924), y=alt.value(3.5)
)

chart = alt.layer(
    vgrid, solid, dashed, bid_line, captions, wicks, bodies,
    bid_box, bid_text, lv_box, lv_text, header, header_arrow, shift_mark,
).properties(
    width=W, height=H,
    autosize=alt.AutoSizeParams(type="none"),
    padding={"left": 0, "top": 0, "right": 78, "bottom": 30},
    background="white",
).configure_view(
    stroke="black", strokeWidth=1
).configure_axis(
    labelFont=FONT, labelFontSize=18.5, labelColor="black", domainColor="black",
    tickColor="black", labelOverlap=False, labelFlush=False, domainWidth=1, tickWidth=1,
)

chart.save("out.html", embed_options={"renderer": "svg", "actions": False})
